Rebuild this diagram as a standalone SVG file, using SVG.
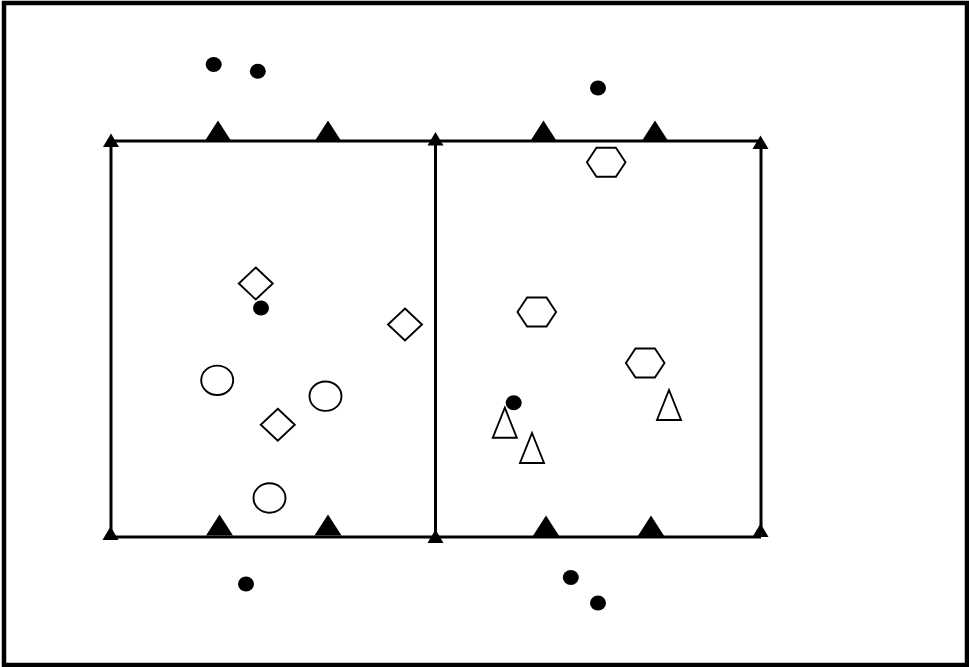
<svg xmlns="http://www.w3.org/2000/svg" width="969" height="667" viewBox="0 0 969 667">
  <style>
    .frame { fill: #fff; stroke: #000; stroke-width: 4.5; }
    .line { stroke: #000; stroke-width: 3; fill: none; }
    .solid { fill: #000; stroke: none; }
    .open { fill: #fff; stroke: #000; stroke-width: 1.9; }
  </style>
  <defs>
    <polygon id="cone" points="0,-21 13.5,0 -13.5,0"/>
    <polygon id="post" points="0,-13.5 8,0 -8,0"/>
    <ellipse id="dot" cx="0" cy="0" rx="8" ry="7.5"/>
    <polygon id="diamond" points="0,-16 17,0 0,16 -17,0"/>
    <ellipse id="ring" cx="0" cy="0" rx="16" ry="14.7"/>
    <polygon id="hex" points="-19.3,0 -9.7,-14.5 9.7,-14.5 19.3,0 9.7,14.5 -9.7,14.5"/>
    <polygon id="tri" points="0,-15 12,15 -12,15"/>
  </defs>

  <rect class="frame" x="4" y="3" width="963" height="662"/>

  <g id="field-lines">
    <line class="line" x1="111" y1="141" x2="761" y2="141"/>
    <line class="line" x1="111" y1="537" x2="761" y2="537"/>
    <line class="line" x1="111" y1="141" x2="111" y2="537"/>
    <line class="line" x1="435.5" y1="141" x2="435.5" y2="537"/>
    <line class="line" x1="761" y1="141" x2="761" y2="537"/>
  </g>

  <g id="corner-posts" class="solid">
    <use href="#post" x="111" y="147"/>
    <use href="#post" x="435.5" y="145.5"/>
    <use href="#post" x="760.5" y="149"/>
    <use href="#post" x="110.5" y="540"/>
    <use href="#post" x="435.5" y="543"/>
    <use href="#post" x="760.5" y="537"/>
  </g>

  <g id="cones" class="solid">
    <use href="#cone" x="218" y="141.5"/>
    <use href="#cone" x="328" y="141.5"/>
    <use href="#cone" x="543.5" y="141.5"/>
    <use href="#cone" x="655" y="141.5"/>
    <use href="#cone" x="219.5" y="535.5"/>
    <use href="#cone" x="328" y="535.5"/>
    <use href="#cone" x="546" y="536.5"/>
    <use href="#cone" x="651" y="536.5"/>
  </g>

  <g id="balls" class="solid">
    <use href="#dot" x="213.7" y="64.5"/>
    <use href="#dot" x="257.8" y="71.2"/>
    <use href="#dot" x="598" y="88"/>
    <use href="#dot" x="261" y="308"/>
    <use href="#dot" x="513.7" y="402.7"/>
    <use href="#dot" x="246" y="584"/>
    <use href="#dot" x="570.8" y="577.5"/>
    <use href="#dot" x="598" y="603"/>
  </g>

  <g id="diamonds" class="open">
    <use href="#diamond" x="255.8" y="283.5"/>
    <use href="#diamond" x="405" y="324.5"/>
    <use href="#diamond" x="277.8" y="424.8"/>
  </g>

  <g id="circles" class="open">
    <use href="#ring" x="217.2" y="380.3"/>
    <use href="#ring" x="325.5" y="396.2"/>
    <use href="#ring" x="269.5" y="498"/>
  </g>

  <g id="hexagons" class="open">
    <use href="#hex" x="606.2" y="162.2"/>
    <use href="#hex" x="536.8" y="312"/>
    <use href="#hex" x="645.2" y="363"/>
  </g>

  <g id="triangles" class="open">
    <use href="#tri" x="504.8" y="422.7"/>
    <use href="#tri" x="532" y="448"/>
    <use href="#tri" x="669" y="405"/>
  </g>
</svg>
